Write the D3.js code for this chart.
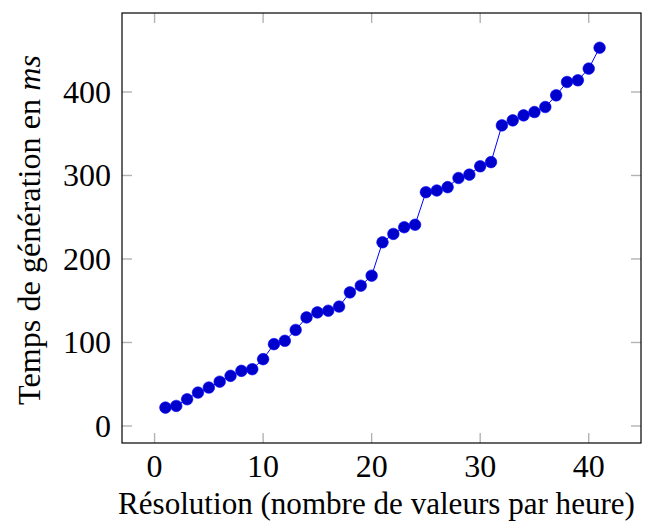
<!DOCTYPE html>
<html><head><meta charset="utf-8">
<script src="https://cdn.jsdelivr.net/npm/d3@7"></script>
<style>
html,body{margin:0;padding:0;background:#fff;}
text{font-family:"Liberation Serif","Times New Roman",serif;fill:#000;}
</style></head>
<body>
<svg id="chart" width="647" height="523"></svg>
<script>
const resolutions = d3.range(1, 42);
const times = [22,24,32,40,46,53,60,66,68,80,98,102,115,130,136,138,143,160,168,180,220,230,238,241,280,282,286,297,301,311,316,360,366,372,376,382,396,412,414,428,453];
const xTicks = [0,10,20,30,40];
const yTicks = [0,100,200,300,400];
const xLabel = "Résolution (nombre de valeurs par heure)";
const yLabelMain = "Temps de génération en ";
const yLabelUnit = "ms";

const svg = d3.select("#chart");
const L = 122, R = 641, T = 13, B = 443;
const x = d3.scaleLinear().domain([-3, 45]).range([L, R + 2]);
const y = d3.scaleLinear().domain([-20.4, 494.6]).range([B, T]);

const tickLen = 10, tickColor = "#b3b3b3";
const g = svg.append("g");

// ticks (inward, all four sides)
g.selectAll(".xtb").data(xTicks).enter().append("line")
  .attr("x1", d => x(d)).attr("x2", d => x(d)).attr("y1", B).attr("y2", B - tickLen)
  .attr("stroke", tickColor).attr("stroke-width", 1.4);
g.selectAll(".xtt").data(xTicks).enter().append("line")
  .attr("x1", d => x(d)).attr("x2", d => x(d)).attr("y1", T).attr("y2", T + tickLen)
  .attr("stroke", tickColor).attr("stroke-width", 1.4);
g.selectAll(".ytl").data(yTicks).enter().append("line")
  .attr("x1", L).attr("x2", L + tickLen).attr("y1", d => y(d)).attr("y2", d => y(d))
  .attr("stroke", tickColor).attr("stroke-width", 1.4);
g.selectAll(".ytr").data(yTicks).enter().append("line")
  .attr("x1", R).attr("x2", R - tickLen).attr("y1", d => y(d)).attr("y2", d => y(d))
  .attr("stroke", tickColor).attr("stroke-width", 1.4);

// frame
g.append("rect").attr("x", L).attr("y", T).attr("width", R - L).attr("height", B - T)
  .attr("fill", "none").attr("stroke", "#000").attr("stroke-width", 1.2);

// tick labels
g.selectAll(".xl").data(xTicks).enter().append("text")
  .attr("x", d => x(d)).attr("y", 477).attr("text-anchor", "middle")
  .attr("font-size", 32).text(d => d);
g.selectAll(".yl").data(yTicks).enter().append("text")
  .attr("x", 111).attr("y", d => y(d) + 11).attr("text-anchor", "end")
  .attr("font-size", 32).text(d => d);

// line + markers
const line = d3.line().x((d, i) => x(resolutions[i])).y(d => y(d));
g.append("path").datum(times).attr("d", line)
  .attr("fill", "none").attr("stroke", "#0000ff").attr("stroke-width", 1);
g.selectAll(".pt").data(times).enter().append("circle")
  .attr("cx", (d, i) => x(resolutions[i])).attr("cy", d => y(d)).attr("r", 5.8)
  .attr("fill", "#0000cc").attr("stroke", "#0000ff").attr("stroke-width", 0.6);

// axis labels, fitted to target widths
function fit(sel, target) {
  sel.attr("font-size", 100);
  const w = sel.node().getComputedTextLength();
  sel.attr("font-size", 100 * target / w);
}
const xl = g.append("text").attr("x", 376.5).attr("y", 514).attr("text-anchor", "middle").text(xLabel);
fit(xl, 517);
const yl = g.append("text").attr("text-anchor", "middle")
  .attr("transform", "translate(40,230) rotate(-90)");
yl.append("tspan").text(yLabelMain);
yl.append("tspan").attr("font-style", "italic").text(yLabelUnit);
fit(yl, 350);
</script>
</body></html>
